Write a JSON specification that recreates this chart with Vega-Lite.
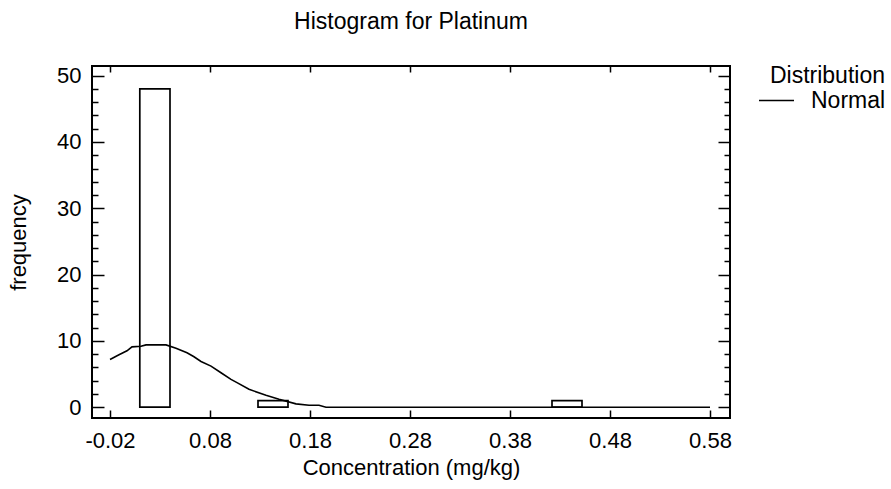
{
  "$schema": "https://vega.github.io/schema/vega-lite/v6.json",
  "width": 638,
  "height": 352,
  "autosize": "none",
  "padding": {"left": 92, "top": 66, "right": 161, "bottom": 71},
  "background": "white",
  "config": {
    "view": {"stroke": "black", "strokeWidth": 2},
    "font": "Liberation Sans",
    "axis": {
      "domain": false,
      "grid": false,
      "tickColor": "black",
      "tickWidth": 1.5,
      "labelColor": "black",
      "labelFont": "Liberation Sans",
      "labelFontSize": 22,
      "titleFont": "Liberation Sans",
      "titleFontSize": 22,
      "titleFontWeight": "normal",
      "titleColor": "black",
      "labelFlush": false,
      "labelOverlap": false
    },
    "legend": {
      "labelFont": "Liberation Sans",
      "labelFontSize": 23,
      "labelColor": "black",
      "titleFont": "Liberation Sans",
      "titleFontSize": 23,
      "titleFontWeight": "normal",
      "titleColor": "black"
    }
  },
  "title": {
    "text": "Histogram for Platinum",
    "fontSize": 23,
    "fontWeight": "normal",
    "font": "Liberation Sans",
    "color": "black",
    "anchor": "middle",
    "frame": "group",
    "baseline": "alphabetic",
    "offset": 13
  },
  "datasets": {
    "bars": [
      {"lo": 0.0098, "hi": 0.040, "count": 48},
      {"lo": 0.128, "hi": 0.158, "count": 1},
      {"lo": 0.422, "hi": 0.452, "count": 1}
    ],
    "curve": [
      {"x": -0.020, "y": 7.2, "dist": "Normal"},
      {"x": -0.011, "y": 7.9, "dist": "Normal"},
      {"x": -0.003, "y": 8.5, "dist": "Normal"},
      {"x": 0.002, "y": 9.1, "dist": "Normal"},
      {"x": 0.011, "y": 9.2, "dist": "Normal"},
      {"x": 0.016, "y": 9.4, "dist": "Normal"},
      {"x": 0.036, "y": 9.4, "dist": "Normal"},
      {"x": 0.046, "y": 8.9, "dist": "Normal"},
      {"x": 0.057, "y": 8.2, "dist": "Normal"},
      {"x": 0.064, "y": 7.6, "dist": "Normal"},
      {"x": 0.071, "y": 6.9, "dist": "Normal"},
      {"x": 0.081, "y": 6.2, "dist": "Normal"},
      {"x": 0.091, "y": 5.2, "dist": "Normal"},
      {"x": 0.101, "y": 4.2, "dist": "Normal"},
      {"x": 0.107, "y": 3.7, "dist": "Normal"},
      {"x": 0.119, "y": 2.7, "dist": "Normal"},
      {"x": 0.136, "y": 1.8, "dist": "Normal"},
      {"x": 0.149, "y": 1.2, "dist": "Normal"},
      {"x": 0.166, "y": 0.5, "dist": "Normal"},
      {"x": 0.179, "y": 0.3, "dist": "Normal"},
      {"x": 0.189, "y": 0.3, "dist": "Normal"},
      {"x": 0.196, "y": 0.0, "dist": "Normal"},
      {"x": 0.300, "y": 0.0, "dist": "Normal"},
      {"x": 0.400, "y": 0.0, "dist": "Normal"},
      {"x": 0.500, "y": 0.0, "dist": "Normal"},
      {"x": 0.580, "y": 0.0, "dist": "Normal"}
    ]
  },
  "layer": [
    {
      "data": {"name": "bars"},
      "mark": {"type": "rect", "fill": "white", "stroke": "black", "strokeWidth": 1.7},
      "encoding": {
        "x": {
          "field": "lo", "type": "quantitative",
          "scale": {"domain": [-0.038, 0.6], "nice": false, "zero": false},
          "axis": {
            "orient": "bottom",
            "values": [-0.02, 0.08, 0.18, 0.28, 0.38, 0.48, 0.58],
            "format": ".2f",
            "labelExpr": "replace(datum.label, '−', '-')",
            "tickSize": -8,
            "labelPadding": 20,
            "title": "Concentration (mg/kg)",
            "titlePadding": 6
          }
        },
        "x2": {"field": "hi"},
        "y": {
          "field": "count", "type": "quantitative",
          "scale": {"domain": [-1.63, 51.46], "nice": false, "zero": false},
          "axis": {
            "orient": "left",
            "values": [0, 10, 20, 30, 40, 50],
            "tickSize": -12,
            "labelPadding": 23,
            "title": "frequency",
            "titlePadding": 26
          }
        },
        "y2": {"datum": 0}
      }
    },
    {
      "data": {"name": "curve"},
      "mark": {"type": "line", "strokeWidth": 1.6, "interpolate": "linear"},
      "encoding": {
        "x": {
          "field": "x", "type": "quantitative",
          "axis": {
            "orient": "top",
            "values": [-0.02, 0.08, 0.18, 0.28, 0.38, 0.48, 0.58],
            "tickSize": -6,
            "labels": false,
            "title": null
          }
        },
        "y": {
          "field": "y", "type": "quantitative",
          "axis": {
            "orient": "right",
            "values": [0, 10, 20, 30, 40, 50],
            "tickSize": -12,
            "labels": false,
            "title": null
          }
        },
        "color": {
          "field": "dist", "type": "nominal",
          "scale": {"range": ["black"]},
          "legend": {
            "title": "Distribution",
            "orient": "none",
            "legendX": 666,
            "legendY": -1,
            "padding": 0,
            "symbolType": "stroke",
            "symbolSize": 1225,
            "symbolStrokeWidth": 1.5,
            "symbolStrokeColor": "black",
            "labelOffset": 16,
            "titleAnchor": "end",
            "titlePadding": -6
          }
        }
      }
    },
    {
      "data": {"name": "bars"},
      "mark": {"type": "point", "opacity": 0},
      "encoding": {
        "x": {"field": "lo", "type": "quantitative", "axis": null},
        "y": {
          "field": "count", "type": "quantitative",
          "axis": {
            "orient": "left",
            "values": [2, 4, 6, 8, 12, 14, 16, 18, 22, 24, 26, 28, 32, 34, 36, 38, 42, 44, 46, 48],
            "tickSize": -6,
            "labels": false,
            "title": null
          }
        }
      }
    },
    {
      "data": {"name": "bars"},
      "mark": {"type": "point", "opacity": 0},
      "encoding": {
        "x": {"field": "lo", "type": "quantitative", "axis": null},
        "y": {
          "field": "count", "type": "quantitative",
          "axis": {
            "orient": "right",
            "values": [2, 4, 6, 8, 12, 14, 16, 18, 22, 24, 26, 28, 32, 34, 36, 38, 42, 44, 46, 48],
            "tickSize": -6,
            "labels": false,
            "title": null
          }
        }
      }
    }
  ],
  "resolve": {"axis": {"x": "independent", "y": "independent"}}
}
